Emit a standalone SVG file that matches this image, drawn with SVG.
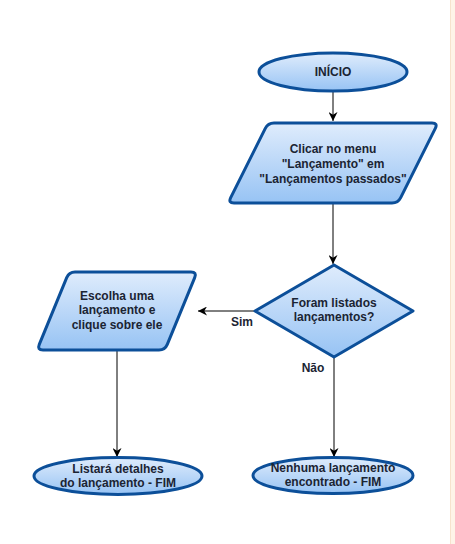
<svg xmlns="http://www.w3.org/2000/svg" width="455" height="544" viewBox="0 0 455 544">
<defs>
<linearGradient id="g" x1="0" y1="0" x2="0" y2="1">
<stop offset="0" stop-color="#dfecfc"/>
<stop offset="1" stop-color="#97c3f4"/>
</linearGradient>
<marker id="arr" viewBox="0 0 10 10" refX="10" refY="5" markerWidth="9" markerHeight="9" markerUnits="userSpaceOnUse" orient="auto">
<path d="M0,0 L10,5 L0,10 L3,5 Z" fill="#000"/>
</marker>
<style>
.shape{fill:url(#g);stroke:#0c4f99;stroke-width:3;stroke-linejoin:round}
.t{font-family:"Liberation Sans",Arial,sans-serif;font-weight:bold;font-size:12px;fill:#1b2433;text-anchor:middle}
.c{fill:none;stroke:#000;stroke-width:1}
</style>
</defs>
<rect x="0" y="0" width="455" height="544" fill="#ffffff"/>
<rect x="450" y="0" width="5" height="544" fill="#fef3e8"/>
<line x1="450.5" y1="0" x2="450.5" y2="544" stroke="#f7e2cd" stroke-width="1"/>
<g id="connectors">
<line class="c" x1="333" y1="91" x2="333" y2="121" marker-end="url(#arr)"/>
<line class="c" x1="333" y1="204" x2="333" y2="264" marker-end="url(#arr)"/>
<line class="c" x1="254" y1="311" x2="198" y2="311" marker-end="url(#arr)"/>
<line class="c" x1="117" y1="351" x2="117" y2="457" marker-end="url(#arr)"/>
<line class="c" x1="334" y1="358" x2="334" y2="457" marker-end="url(#arr)"/>
<text class="t" x="242" y="326">Sim</text>
<text class="t" x="313" y="372">Não</text>
</g>
<g id="inicio">
<ellipse class="shape" cx="333" cy="72" rx="74" ry="19"/>
<text class="t" x="333" y="76">INÍCIO</text>
</g>
<g id="clicar">
<path class="shape" d="M274,123 L432,123 Q438,123 435.3,128.4 L400.7,197.6 Q398,203 392,203 L234,203 Q228,203 230.7,197.6 L265.3,128.4 Q268,123 274,123 Z"/>
<text class="t" x="333" y="153">Clicar no menu</text>
<text class="t" x="333" y="168">"Lançamento" em</text>
<text class="t" x="333" y="183">"Lançamentos passados"</text>
</g>
<g id="decisao">
<path class="shape" d="M334,265 L413,311 L334,357 L255,311 Z"/>
<text class="t" x="334" y="307">Foram listados</text>
<text class="t" x="334" y="321">lançamentos?</text>
</g>
<g id="escolha">
<path class="shape" d="M75,272 L191,272 Q197,272 194.7,277.6 L167.3,344.4 Q165,350 159,350 L43,350 Q37,350 39.3,344.4 L66.7,277.6 Q69,272 75,272 Z"/>
<text class="t" x="117" y="300">Escolha uma</text>
<text class="t" x="117" y="314">lançamento e</text>
<text class="t" x="117" y="329">clique sobre ele</text>
</g>
<g id="listara">
<ellipse class="shape" cx="118" cy="476" rx="84" ry="18.5"/>
<text class="t" x="118" y="473">Listará detalhes</text>
<text class="t" x="118" y="487">do lançamento - FIM</text>
</g>
<g id="nenhuma">
<ellipse class="shape" cx="333" cy="475.5" rx="80" ry="18"/>
<text class="t" x="333" y="472">Nenhuma lançamento</text>
<text class="t" x="333" y="486">encontrado - FIM</text>
</g>
</svg>
